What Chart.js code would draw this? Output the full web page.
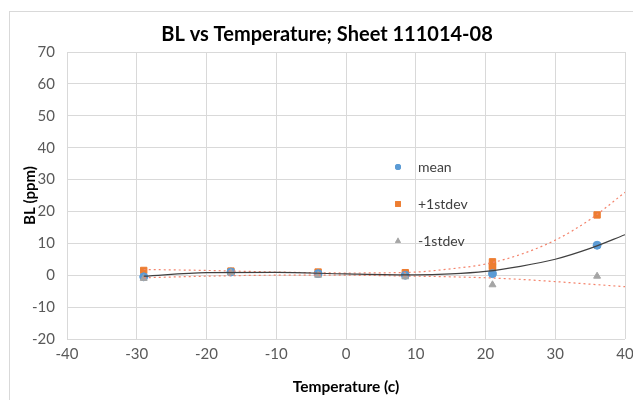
<!DOCTYPE html>
<html>
<head>
<meta charset="utf-8">
<script src="https://cdn.jsdelivr.net/npm/chart.js@4.4.0/dist/chart.umd.min.js"></script>
<style>
  body { margin: 0; background: #fff; }
  #wrap { width: 633px; height: 400px; }
</style>
</head>
<body>
<div id="wrap"><canvas id="blChart" width="633" height="400"></canvas></div>
<script>
// temperatures (c) of the measured points
const temps = [-29, -16.5, -4, 8.5, 21, 36];
const meanVals = [-0.5, 1.0, 0.5, 0.0, 0.5, 9.4];
const plusVals = [1.5, 1.3, 1.0, 0.8, 3.0, 18.9];
const minusVals = [-1.0, 0.8, 0.0, -0.5, -3.0, -0.3];
// extra +1stdev squares stacked at 21 c
const plusExtraTemps = [21, 21];
const plusExtraVals = [4.2, 2.4];

// trendlines
const trendTemps = [-29, -20, -10, 0, 10, 15, 20, 25, 30, 35, 40];
const trendMean = [-0.3, 0.8, 0.9, 0.4, 0.1, 0.4, 1.2, 2.8, 5.0, 8.4, 12.7];
const trendPlus = [1.8, 1.5, 1.0, 0.7, 1.0, 2.0, 3.5, 6.5, 11.0, 17.5, 26.0];
const trendMinus = [-0.8, -0.3, 0.0, 0.0, -0.3, -0.5, -0.8, -1.3, -2.0, -2.8, -3.6];

const xTicks = [-40, -30, -20, -10, 0, 10, 20, 30, 40];
const yTicks = [-20, -10, 0, 10, 20, 30, 40, 50, 60, 70];

const pts = (xs, ys) => xs.map((x, i) => ({ x: x, y: ys[i] }));

const FONT = 'Lato, "Liberation Sans", sans-serif';

const frame = {
    id: 'frame',
    beforeDraw(chart) {
        const c = chart.ctx;
        c.save();
        c.strokeStyle = '#d9d9d9';
        c.lineWidth = 1;
        c.strokeRect(9.5, 11.5, 700, 500);
        c.restore();
    }
};

// legend sits inside the plot like in the spreadsheet chart
const innerLegend = {
    id: 'innerLegend',
    afterDraw(chart) {
        const c = chart.ctx;
        const items = [
            { text: 'mean', style: 'circle', r: 3, color: '#5B9BD5', y: 167 },
            { text: '+1stdev', style: 'rect', r: 4, color: '#ED7D31', y: 204 },
            { text: '-1stdev', style: 'triangle', r: 3.5, color: '#A5A5A5', y: 241 }
        ];
        c.save();
        c.font = '14px ' + FONT;
        c.textBaseline = 'middle';
        items.forEach(it => {
            c.fillStyle = it.color;
            Chart.helpers.drawPoint(c, { pointStyle: it.style, radius: it.r, borderWidth: 0 }, 398, it.y);
            c.fill();
            c.fillStyle = '#404040';
            c.fillText(it.text, 418, it.y);
        });
        c.restore();
    }
};

new Chart(document.getElementById('blChart').getContext('2d'), {
    type: 'scatter',
    data: {
        datasets: [
            {
                label: 'mean trend',
                type: 'line',
                data: pts(trendTemps, trendMean),
                borderColor: '#404040',
                borderWidth: 1.2,
                pointRadius: 0,
                cubicInterpolationMode: 'monotone',
                fill: false
            },
            {
                label: '+1stdev trend',
                type: 'line',
                data: pts(trendTemps, trendPlus),
                borderColor: '#F4836B',
                borderWidth: 1.2,
                borderDash: [2, 3],
                pointRadius: 0,
                cubicInterpolationMode: 'monotone',
                fill: false
            },
            {
                label: '-1stdev trend',
                type: 'line',
                data: pts(trendTemps, trendMinus),
                borderColor: '#F4836B',
                borderWidth: 1.2,
                borderDash: [2, 3],
                pointRadius: 0,
                cubicInterpolationMode: 'monotone',
                fill: false
            },
            {
                label: '-1stdev',
                data: pts(temps, minusVals),
                pointStyle: 'triangle',
                pointRadius: 4,
                backgroundColor: '#A5A5A5',
                borderColor: '#A5A5A5'
            },
            {
                label: 'mean',
                data: pts(temps, meanVals),
                pointStyle: 'circle',
                pointRadius: 4,
                backgroundColor: '#5B9BD5',
                borderColor: '#5B9BD5'
            },
            {
                label: '+1stdev',
                data: pts(temps, plusVals).concat(pts(plusExtraTemps, plusExtraVals)),
                pointStyle: 'rect',
                pointRadius: 4.5,
                backgroundColor: '#ED7D31',
                borderColor: '#ED7D31'
            }
        ]
    },
    options: {
        responsive: false,
        animation: false,
        layout: { padding: { left: 29, right: 8, top: 0, bottom: 0 } },
        plugins: {
            legend: { display: false },
            tooltip: { enabled: false },
            title: {
                display: true,
                text: 'BL vs Temperature; Sheet 111014-08',
                color: '#000',
                font: { family: FONT, size: 20, weight: 'bold' },
                padding: { top: 23, bottom: 5 }
            }
        },
        scales: {
            x: {
                type: 'linear',
                min: -40,
                max: 40,
                afterBuildTicks: s => { s.ticks = xTicks.map(v => ({ value: v })); },
                afterFit: s => { s.height = 61; s.paddingRight = 0; s.paddingLeft = 0; },
                grid: { color: '#d9d9d9', drawTicks: false },
                border: { display: false },
                ticks: { color: '#595959', font: { family: FONT, size: 15 }, padding: 6 },
                title: {
                    display: true,
                    text: 'Temperature (c)',
                    color: '#000',
                    font: { family: FONT, size: 15.5, weight: 'bold' },
                    padding: { top: 1 }
                }
            },
            y: {
                min: -20,
                max: 70,
                afterBuildTicks: s => { s.ticks = yTicks.map(v => ({ value: v })); },
                afterFit: s => { s.width = 38; s.paddingTop = 0; s.paddingBottom = 0; },
                grid: { color: '#d9d9d9', drawTicks: false },
                border: { display: false },
                ticks: { color: '#595959', font: { family: FONT, size: 15 }, padding: 12 },
                title: {
                    display: true,
                    text: 'BL (ppm)',
                    color: '#000',
                    font: { family: FONT, size: 15, weight: 'bold' },
                    padding: { top: -8, bottom: 0 }
                }
            }
        }
    },
    plugins: [frame, innerLegend]
});
</script>
</body>
</html>
